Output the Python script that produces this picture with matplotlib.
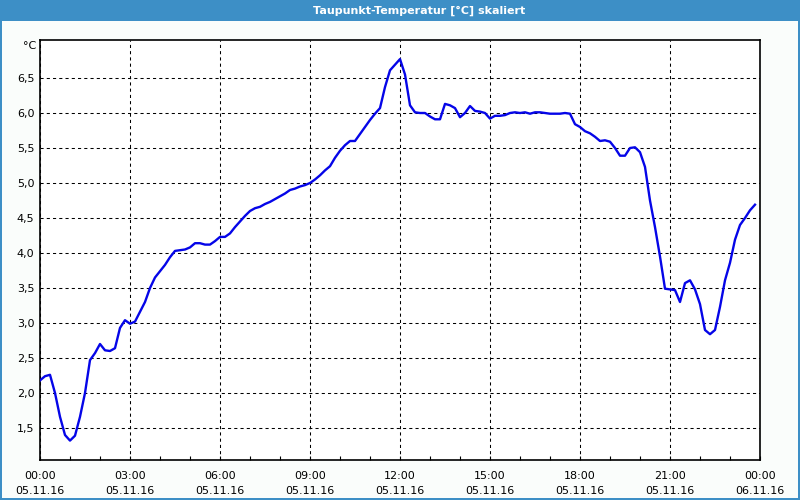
import matplotlib
matplotlib.use("Agg")
import matplotlib.pyplot as plt
from matplotlib.patches import Rectangle
from matplotlib.ticker import FixedLocator, MultipleLocator, FuncFormatter

# --- data: 10-minute samples starting 05.11.16 00:00 ---
step_minutes = 10
values = [
    2.18, 2.24, 2.26, 2.00, 1.66, 1.40, 1.32, 1.39, 1.66, 2.00,
    2.47, 2.57, 2.70, 2.61, 2.60, 2.64, 2.93, 3.04, 2.99, 3.02,
    3.16, 3.30, 3.50, 3.65, 3.74, 3.83, 3.94, 4.03, 4.04, 4.05,
    4.08, 4.14, 4.14, 4.12, 4.12, 4.17, 4.23, 4.23, 4.28, 4.37,
    4.45, 4.53, 4.60, 4.64, 4.66, 4.70, 4.73, 4.77, 4.81, 4.85,
    4.90, 4.92, 4.95, 4.97, 5.00, 5.05, 5.11, 5.18, 5.24, 5.36,
    5.46, 5.54, 5.60, 5.60, 5.70, 5.80, 5.90, 5.99, 6.07, 6.37,
    6.61, 6.69, 6.77, 6.55, 6.11, 6.01, 6.00, 6.00, 5.95, 5.91,
    5.91, 6.13, 6.11, 6.07, 5.94, 6.00, 6.10, 6.03, 6.02, 6.00,
    5.92, 5.96, 5.96, 5.97, 6.00, 6.01, 6.00, 6.01, 5.99, 6.01,
    6.01, 6.00, 5.99, 5.99, 5.99, 6.00, 5.99, 5.84, 5.80, 5.74,
    5.71, 5.66, 5.60, 5.61, 5.59, 5.50, 5.39, 5.39, 5.50, 5.51,
    5.44, 5.23, 4.75, 4.37, 3.95, 3.49, 3.48, 3.47, 3.30, 3.57,
    3.61, 3.48, 3.27, 2.90, 2.84, 2.90, 3.23, 3.61, 3.86, 4.19,
    4.40, 4.50, 4.61, 4.69,
]
hours = [i * step_minutes / 60 for i in range(len(values))]

x_ticks = [0, 3, 6, 9, 12, 15, 18, 21, 24]
x_tick_labels = ["00:00\n05.11.16", "03:00\n05.11.16", "06:00\n05.11.16",
                 "09:00\n05.11.16", "12:00\n05.11.16", "15:00\n05.11.16",
                 "18:00\n05.11.16", "21:00\n05.11.16", "00:00\n06.11.16"]
y_ticks = [1.5, 2.0, 2.5, 3.0, 3.5, 4.0, 4.5, 5.0, 5.5, 6.0, 6.5]
title = "Taupunkt-Temperatur [°C] skaliert"
unit = "°C"

W, H = 800, 500
fig = plt.figure(figsize=(8, 5), dpi=100, facecolor="#FAFDFB")
bar_color = "#3D8FC6"

# title bar and frame
fig.patches.append(Rectangle((0, 1 - 21 / H), 1, 21 / H, transform=fig.transFigure,
                             facecolor=bar_color, edgecolor="none", zorder=0))
fig.patches.append(Rectangle((0, 0), 2 / W, 1, transform=fig.transFigure,
                             facecolor=bar_color, edgecolor="none", zorder=0))
fig.patches.append(Rectangle((1 - 2 / W, 0), 2 / W, 1, transform=fig.transFigure,
                             facecolor=bar_color, edgecolor="none", zorder=0))
fig.patches.append(Rectangle((0, 0), 1, 2 / H, transform=fig.transFigure,
                             facecolor=bar_color, edgecolor="none", zorder=0))
fig.text(419 / W, 1 - 10.5 / H, title, color="white", ha="center", va="center",
         fontsize=8, fontweight="bold", family="DejaVu Sans")

ax = fig.add_axes([40 / W, (H - 460) / H, 720 / W, 420 / H])
ax.set_facecolor("white")
ax.plot(hours, values, color="#0505E8", linewidth=1.7, zorder=3)

ax.set_xlim(0, 24)
ax.set_ylim(1.5 - 32 / 70, 6.5 + 38 / 70)

ax.xaxis.set_major_locator(FixedLocator(x_ticks))
ax.set_xticklabels(x_tick_labels, fontsize=8, linespacing=1.55)
ax.xaxis.set_minor_locator(MultipleLocator(1))
ax.tick_params(axis="x", which="both", direction="in", length=3, width=0.8,
               color="black", pad=8)
ax.set_yticks(y_ticks)
ax.yaxis.set_major_formatter(FuncFormatter(lambda v, p: f"{v:.1f}".replace(".", ",")))
ax.tick_params(axis="y", which="both", length=0, pad=4, labelsize=8)

ax.grid(True, which="major", color="black", linestyle=(0, (3, 3)), linewidth=0.75)
for s in ax.spines.values():
    s.set_color("black")
    s.set_linewidth(1.2)

fig.text(36 / W, 1 - 41 / H, unit, ha="right", va="top", fontsize=8)

fig.savefig("out.png", dpi=100, facecolor=fig.get_facecolor())
